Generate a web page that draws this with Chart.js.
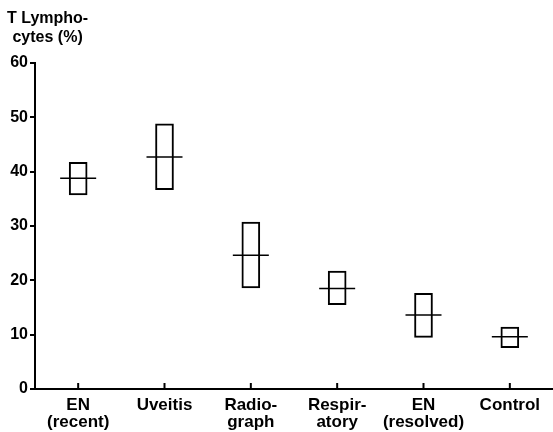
<!DOCTYPE html>
<html>
<head>
<meta charset="utf-8">
<script src="https://cdn.jsdelivr.net/npm/chart.js@4"></script>
<style>
    html, body { margin: 0; padding: 0; background: #fff; }
    #wrap { position: relative; width: 553px; height: 432px; }
    #yTitle {
        position: absolute; left: 7px; top: 8px;
        font: bold 16px "Liberation Sans", Arial, sans-serif;
        line-height: 19px; text-align: center; color: #000;
    }
</style>
</head>
<body>
<div id="wrap">
    <canvas id="chart" width="553" height="432"></canvas>
    <div id="yTitle">T Lympho-<br>cytes (%)</div>
</div>
<script>
// Data
const groups = [['EN', '(recent)'], 'Uveitis', ['Radio-', 'graph'], ['Respir-', 'atory'], ['EN', '(resolved)'], 'Control'];
const lowValues = [35.7, 36.7, 18.6, 15.5, 9.5, 7.6];
const highValues = [41.7, 48.8, 30.7, 21.7, 17.6, 11.4];
const meanValues = [38.8, 42.7, 24.6, 18.5, 13.6, 9.6];
const yTicks = [0, 10, 20, 30, 40, 50, 60];

const font = { family: '"Liberation Sans", Arial, sans-serif', weight: 'bold', size: 16 };
const xFont = { family: '"Liberation Sans", Arial, sans-serif', weight: 'bold', size: 17, lineHeight: 1.0 };

// Ticks on the x axis point up into the plot
const innerTicks = {
    id: 'innerTicks',
    afterDraw(chart) {
        const ctx = chart.ctx;
        const x = chart.scales.x;
        const bottom = chart.chartArea.bottom;
        ctx.save();
        ctx.strokeStyle = '#000';
        ctx.lineWidth = 2;
        groups.forEach((g, i) => {
            const px = x.getPixelForValue(i);
            ctx.beginPath();
            ctx.moveTo(px, bottom - 6);
            ctx.lineTo(px, bottom);
            ctx.stroke();
        });
        ctx.restore();
    }
};

new Chart(document.getElementById('chart'), {
    data: {
        labels: groups,
        datasets: [
            {
                type: 'bar',
                order: 2,
                data: lowValues.map((v, i) => [v, highValues[i]]),
                backgroundColor: '#fff',
                borderColor: '#000',
                borderWidth: 2,
                borderSkipped: false,
                barThickness: 18
            },
            {
                type: 'line',
                order: 1,
                data: meanValues,
                showLine: false,
                pointStyle: 'line',
                pointRadius: 18,
                pointBorderWidth: 1.5,
                borderColor: '#000'
            }
        ]
    },
    options: {
        responsive: false,
        animation: false,
        layout: { autoPadding: false, padding: { top: 63, right: 0, left: 0, bottom: 0 } },
        plugins: { legend: { display: false }, tooltip: { enabled: false } },
        scales: {
            x: {
                offset: true,
                grid: { display: false, drawTicks: false },
                border: { color: '#000', width: 2 },
                ticks: { color: '#000', font: xFont, padding: 8, maxRotation: 0, autoSkip: false },
                afterFit: (scale) => {
                    scale.height = 43;
                    scale.paddingLeft = 0;
                    scale.paddingRight = 0;
                }
            },
            y: {
                min: 0,
                max: 60,
                afterBuildTicks: (scale) => { scale.ticks = yTicks.map(v => ({ value: v })); },
                grid: { drawOnChartArea: false, tickLength: 5, color: '#000', lineWidth: 2 },
                border: { color: '#000', width: 2 },
                ticks: { color: '#000', font: font, padding: 2 },
                afterFit: (scale) => { scale.width = 35; }
            }
        }
    },
    plugins: [innerTicks]
});
</script>
</body>
</html>
